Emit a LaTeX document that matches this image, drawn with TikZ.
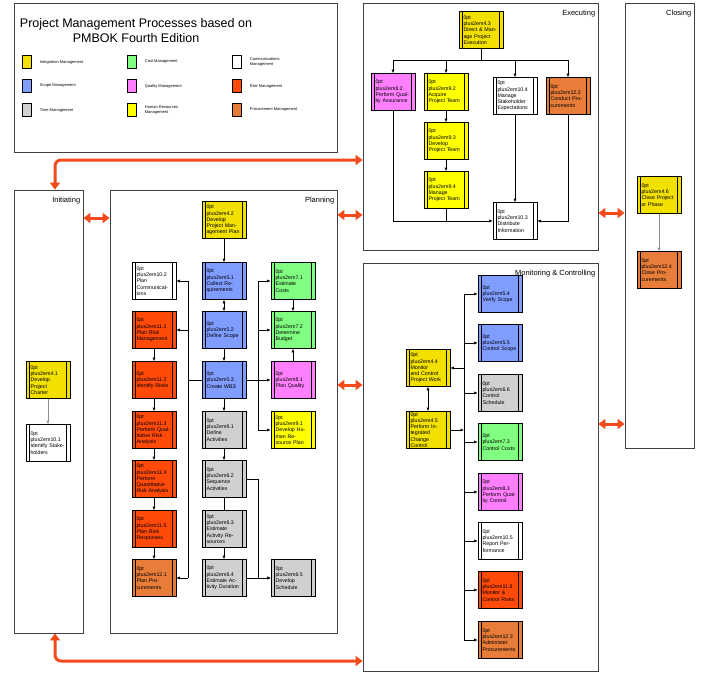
\documentclass[tikz,border=0pt]{standalone}
\usepackage{fontspec}
\setmainfont{Liberation Sans}
\usetikzlibrary{arrows.meta,positioning}
\definecolor{integ}{HTML}{F2E000}
\definecolor{cost}{HTML}{80FF80}
\definecolor{scope}{HTML}{7F9CFF}
\definecolor{qual}{HTML}{FF7FFF}
\definecolor{risk}{HTML}{FF4A0A}
\definecolor{time}{HTML}{D0D0D0}
\definecolor{hr}{HTML}{FFFF00}
\definecolor{proc}{HTML}{E87D3A}
\definecolor{redarr}{HTML}{F24A1A}
\tikzset{
  box/.style={draw, line width=0.6pt, minimum width=44, minimum height=37, text width=35, align=center,
    inner sep=1pt, font=\fontsize{5.3}{6.3}\selectfont\hyphenpenalty=10000\exhyphenpenalty=10000,
    path picture={\draw ([xshift=3.5pt]path picture bounding box.north west) -- ([xshift=3.5pt]path picture bounding box.south west);
      \draw ([xshift=-3.5pt]path picture bounding box.north east) -- ([xshift=-3.5pt]path picture bounding box.south east);}},
  frame/.style={draw=black!75, line width=0.8pt, inner sep=0pt},
  lbl/.style={font=\fontsize{7.5}{8}\selectfont, inner sep=1pt},
  swatch/.style={draw, minimum width=9, minimum height=13, inner sep=0pt},
  leg/.style={font=\fontsize{4}{4.6}\selectfont, align=left, anchor=west, inner sep=0pt},
  ar/.style={-{Latex[length=3.5pt,width=3pt]}, line width=0.6pt},
  dar/.style={{Latex[length=3.5pt,width=3pt]}-{Latex[length=3.5pt,width=3pt]}, line width=0.6pt},
  big/.style={line width=3pt, draw=redarr, {Triangle[length=7pt,width=10pt]}-{Triangle[length=7pt,width=10pt]}}
}
\begin{document}
\begin{tikzpicture}[x=1pt,y=-1pt]
\useasboundingbox (0,0) rectangle (706,675);
% frames
\node[frame, minimum width=323, minimum height=149] (legend) at (175.5,77.5) {};
\node[frame, minimum width=69, minimum height=443] (init) at (48.5,411.5) {};
\node[frame, minimum width=227, minimum height=443] (plan) at (223.5,411.5) {};
\node[frame, minimum width=235, minimum height=247] (exec) at (480.5,126.5) {};
\node[frame, minimum width=69, minimum height=445] (close) at (659.5,225.5) {};
\node[frame, minimum width=235, minimum height=408] (mon) at (480.5,467) {};
\node[lbl, anchor=north east] at (init.north east) [xshift=-2, yshift=-6] {Initiating};
\node[lbl, anchor=north east] at (plan.north east) [xshift=-2, yshift=-6] {Planning};
\node[lbl, anchor=north east] at (exec.north east) [xshift=-2, yshift=-6] {Executing};
\node[lbl, anchor=north east] at (close.north east) [xshift=-2, yshift=-6] {Closing};
\node[lbl, anchor=north east] at (mon.north east) [xshift=-2, yshift=-6] {Monitoring \& Controlling};

% legend
\node[font=\fontsize{12.5}{15}\selectfont, align=center] (title) at (136,31) {Project Management Processes based on\\PMBOK Fourth Edition};
\node[swatch, fill=integ] (s1) at (27,62) {};
\node[leg, right=8pt of s1] {Integration Management};
\node[swatch, fill=scope] (s2) at (27,86) {};
\node[leg, right=8pt of s2] {Scope Management};
\node[swatch, fill=time] (s3) at (27,110) {};
\node[leg, right=8pt of s3] {Time Management};
\node[swatch, fill=cost] (s4) at (132,62) {};
\node[leg, right=8pt of s4] {Cost Management};
\node[swatch, fill=qual] (s5) at (132,86) {};
\node[leg, right=8pt of s5] {Quality Management};
\node[swatch, fill=hr] (s6) at (132,110) {};
\node[leg, right=8pt of s6] {Human Resources\\Management};
\node[swatch, fill=white] (s7) at (237,62) {};
\node[leg, right=8pt of s7] {Communications\\Management};
\node[swatch, fill=risk] (s8) at (237,86) {};
\node[leg, right=8pt of s8] {Risk Management};
\node[swatch, fill=proc] (s9) at (237,110) {};
\node[leg, right=8pt of s9] {Procurement Management};

% initiating
\node[box, fill=integ] (p41) at (48,380) {4.1 Develop Project Charter};
\node[box] (p101) at (48,443) {10.1 Identify Stakeholders};
\draw[ar, black!45] (p41) -- (p101);

% planning
\node[box, fill=integ] (p42) at (224,220) {4.2 Develop Project Management Plan};
\node[box] (p102) at (154,281) {10.2 Plan Communicat-\\ions};
\node[box, fill=scope] (p51) at (224,281) {5.1 Collect Requirements};
\node[box, fill=cost] (p71) at (293,281) {7.1 Estimate Costs};
\node[box, fill=risk] (p111) at (154,330) {11.1 Plan Risk Management};
\node[box, fill=scope] (p52) at (224,330) {5.2 Define Scope};
\node[box, fill=cost] (p72) at (293,330) {7.2 Determine Budget};
\node[box, fill=risk] (p112) at (154,380) {11.2 Identify Risks};
\node[box, fill=scope] (p53) at (224,380) {5.3 Create WBS};
\node[box, fill=qual] (p81) at (293,380) {8.1 Plan Quality};
\node[box, fill=risk] (p113) at (154,430) {11.3 Perform Qualitative Risk Analysis};
\node[box, fill=time] (p61) at (224,430) {6.1 Define Activities};
\node[box, fill=hr] (p91) at (293,430) {9.1 Develop Human Resource Plan};
\node[box, fill=risk] (p114) at (154,479) {11.4 Perform Quantitative Risk Analysis};
\node[box, fill=time] (p62) at (224,479) {6.2 Sequence Activities};
\node[box, fill=risk] (p115) at (154,529) {11.5 Plan Risk Responses};
\node[box, fill=time] (p63) at (224,529) {6.3 Estimate Activity Resources};
\node[box, fill=proc] (p121) at (154,578) {12.1 Plan Procurements};
\node[box, fill=time] (p64) at (224,578) {6.4 Estimate Activity Duration};
\node[box, fill=time] (p65) at (293,578) {6.5 Develop Schedule};
\coordinate (lbus) at (188,0);
\coordinate (rbus) at (258,0);
\draw[ar] (p42) -- (p51);
\draw[dar] (p51) -- (p52);
\draw[ar] (p52) -- (p53);
\draw[ar] (p53) -- (p61);
\draw[ar] (p61) -- (p62);
\draw (p62) -- (p63);
\draw[ar] (p63) -- (p64);
\draw[ar] (p64) -- (p65);
\draw[ar] (p62.east) -- (p62.east -| rbus) |- (p65.west);
\draw[ar] (p111) -- (p112);
\draw[ar] (p112) -- (p113);
\draw[ar] (p113) -- (p114);
\draw[ar] (p114) -- (p115);
\draw[ar] (p115) -- (p121);
\draw (p53.west) -- (p53.west -| lbus);
\draw (p102.east -| lbus) -- (p121.east -| lbus);
\draw[ar] (p102.east -| lbus) -- (p102.east);
\draw[ar] (p111.east -| lbus) -- (p111.east);
\draw[ar] (p121.east -| lbus) -- (p121.east);
\draw[ar] (p53) -- (p81);
\draw (p71.west -| rbus) -- (p91.west -| rbus);
\draw[ar] (p71.west -| rbus) -- (p71.west);
\draw[ar] (p72.west -| rbus) -- (p72.west);
\draw[ar] (p91.west -| rbus) -- (p91.west);
\draw[ar] (p71) -- (p72);
\draw[ar] (p81) -- (p72);

% executing
\node[box, fill=integ] (p43) at (481,30) {4.3 Direct \& Manage Project Execution};
\node[box, fill=qual] (p82) at (393,92) {8.2 Perform Quality Assurance};
\node[box, fill=hr] (p92) at (446,92) {9.2 Acquire Project Team};
\node[box] (p104) at (515,96) {10.4 Manage Stakeholder Expectations};
\node[box, fill=proc] (p122) at (568,96) {12.2 Conduct Procurements};
\node[box, fill=hr] (p93) at (446,141) {9.3 Develop Project Team};
\node[box, fill=hr] (p94) at (446,190) {9.4 Manage Project Team};
\node[box] (p103) at (515,221) {10.3 Distribute Information};
\coordinate (ebus) at (0,60);
\draw (p43.south) -- (p43.south |- ebus);
\draw (p82.north |- ebus) -- (p122.north |- ebus);
\draw[ar] (p82.north |- ebus) -- (p82.north);
\draw[ar] (p92.north |- ebus) -- (p92.north);
\draw[ar] (p104.north |- ebus) -- (p104.north);
\draw[ar] (p122.north |- ebus) -- (p122.north);
\draw[ar] (p92) -- (p93);
\draw[ar] (p93) -- (p94);
\draw[ar] (p82.south) |- (p103.west);
\draw (p94.south) -- (p94.south |- p103.west);
\draw[ar] (p104) -- (p103);
\draw[ar] (p122.south) |- (p103.east);

% closing
\node[box, fill=integ] (p46) at (659,195) {4.6 Close Project or Phase};
\node[box, fill=proc] (p124) at (659,270) {12.4 Close Procurements};
\draw[ar, black!45] (p46) -- (p124);

% monitoring & controlling
\node[box, fill=scope] (p54) at (500,294) {5.4 Verify Scope};
\node[box, fill=scope] (p55) at (500,343) {5.5 Control Scope};
\node[box, fill=time] (p66) at (500,393) {6.6 Control Schedule};
\node[box, fill=cost] (p73) at (500,442) {7.3 Control Costs};
\node[box, fill=qual] (p83) at (500,492) {8.3 Perform Quality Control};
\node[box] (p105) at (500,541) {10.5 Report Performance};
\node[box, fill=risk] (p116) at (500,590) {11.6 Monitor \& Control Risks};
\node[box, fill=proc] (p123) at (500,640) {12.3 Administer Procurements};
\node[box, fill=integ] (p44) at (428,368) {4.4 Monitor and Control Project Work};
\node[box, fill=integ] (p45) at (428,430) {4.5 Perform Integrated Change Control};
\coordinate (mbus) at (464,0);
\draw (p54.west -| mbus) -- (p123.west -| mbus);
\foreach \n in {p54,p55,p66,p73,p83,p105,p116,p123}
  \draw[ar] (\n.west -| mbus) -- (\n.west);
\draw[ar] (p44.east -| mbus) -- (p44.east);
\draw[ar] (p45.east) -- (p45.east -| mbus);
\draw[dar] (p44) -- (p45);

% phase arrows
\draw[big] (init.east |- 0,218) -- (plan.west |- 0,218);
\draw[big] (plan.east |- 0,215) -- (exec.west |- 0,215);
\draw[big] (plan.east |- 0,385) -- (mon.west |- 0,385);
\draw[big] (exec.east |- 0,213) -- (close.west |- 0,213);
\draw[big] (mon.east |- 0,424) -- (close.west |- 0,424);
\draw[big, rounded corners=6] (init.north -| 55,0) -- (55,160) -- (exec.west |- 0,160);
\draw[big, rounded corners=6] (init.south -| 55,0) -- (55,661) -- (mon.west |- 0,661);
\end{tikzpicture}
\end{document}
